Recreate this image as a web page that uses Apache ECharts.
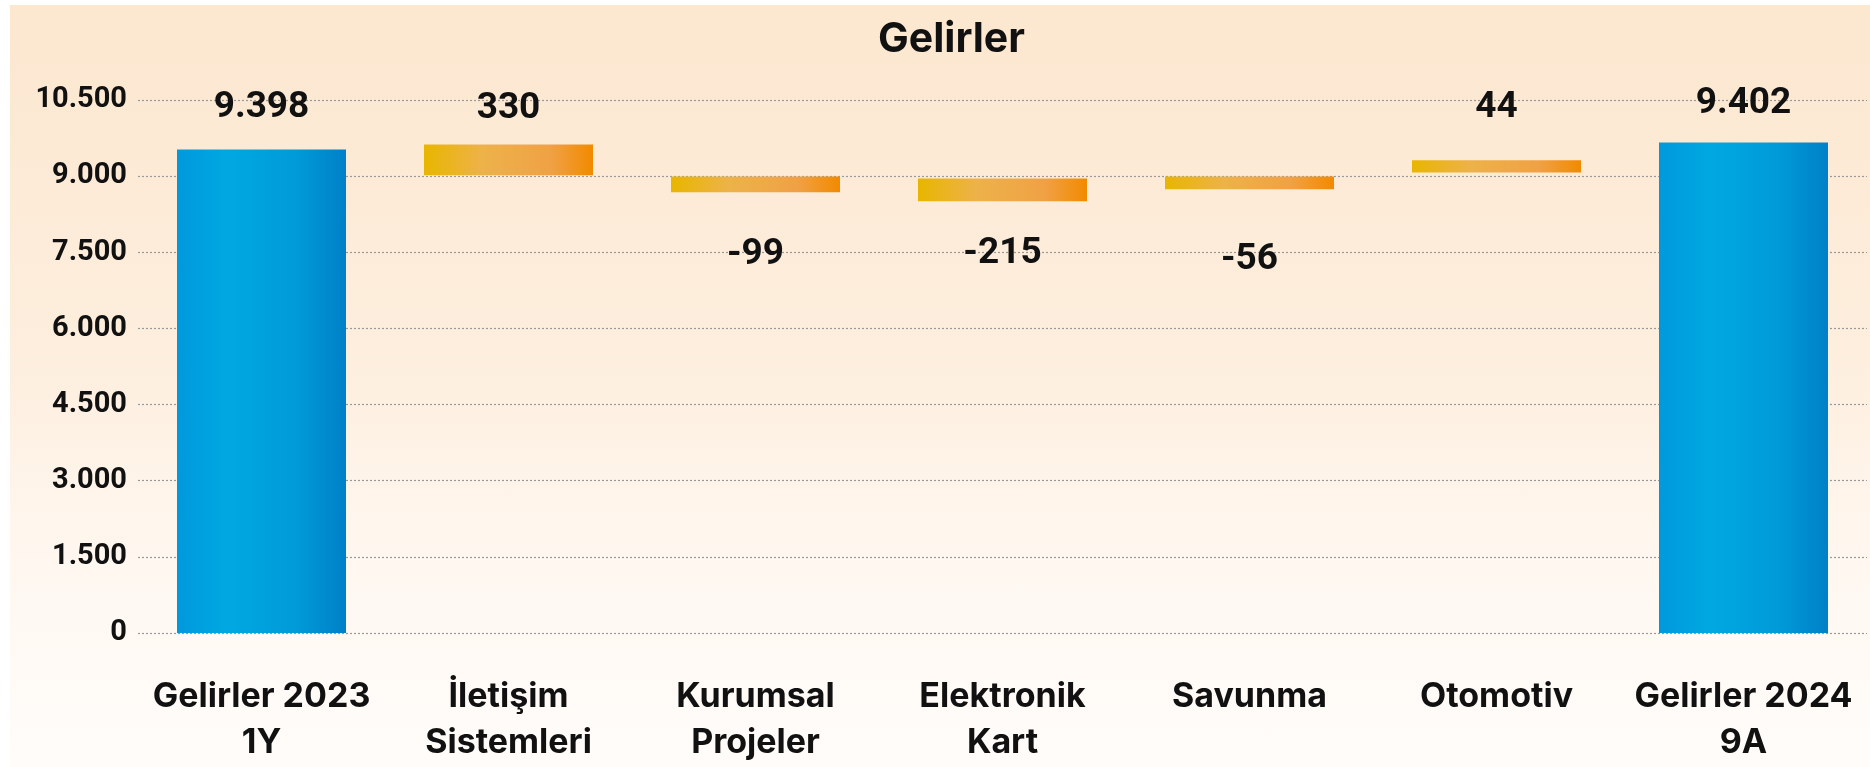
<!DOCTYPE html>
<html>
<head>
<meta charset="utf-8">
<script src="https://cdn.jsdelivr.net/npm/echarts@6/dist/echarts.min.js"></script>
<style>
  html, body { margin: 0; padding: 0; background: #ffffff; }
  #bg { position: absolute; left: 10px; top: 5px; width: 1860px; height: 762px;
        background: linear-gradient(to bottom, #FCE7CF 0%, #FDEEDD 45%, #FFF8F1 75%, #FFFCFA 100%); }
  #chart { position: absolute; left: 0; top: 0; width: 1870px; height: 767px; }
</style>
</head>
<body>
<div id="bg"></div>
<div id="chart"></div>
<script>
// ---- data ----
const titleText = 'Gelirler';
const categories = ['Gelirler 2023\n1Y', 'İletişim\nSistemleri', 'Kurumsal\nProjeler', 'Elektronik\nKart', 'Savunma', 'Otomotiv', 'Gelirler 2024\n9A'];
const shownValues = [9398, 330, -99, -215, -56, 44, 9402];      // printed labels
const barBottom = [0, 9020, 8684, 8506, 8743, 9074, 0];          // bar extents as drawn
const barTop    = [9526, 9625, 8993, 8954, 8993, 9311, 9664];
const isTotal   = [true, false, false, false, false, false, true];
const yTicks = { min: 0, max: 10500, interval: 1500 };

// ---- styling ----
const labelGap = [23, 17, 44, 34, 52, 34, 20];

function fmtTR(v) {
  const neg = v < 0;
  const s = String(Math.abs(Math.round(v))).replace(/\B(?=(\d{3})+(?!\d))/g, '.');
  return (neg ? '-' : '') + s;
}

const blueGrad = new echarts.graphic.LinearGradient(0, 0, 1, 0, [
  { offset: 0, color: '#0099DD' },
  { offset: 0.3, color: '#00A8E1' },
  { offset: 0.7, color: '#009BD8' },
  { offset: 1, color: '#0080C8' }
]);
const orangeGrad = new echarts.graphic.LinearGradient(0, 0, 1, 0, [
  { offset: 0, color: '#E8B600' },
  { offset: 0.35, color: '#EDB24A' },
  { offset: 0.75, color: '#F0A145' },
  { offset: 1, color: '#F28A00' }
]);

const deltaData = barTop.map((t, i) => ({
  value: t - barBottom[i],
  itemStyle: { color: isTotal[i] ? blueGrad : orangeGrad },
  label: {
    position: shownValues[i] < 0 ? 'bottom' : 'top',
    distance: labelGap[i]
  }
}));

const chart = echarts.init(document.getElementById('chart'), null, { renderer: 'canvas' });
chart.setOption({
  backgroundColor: 'transparent',
  animation: false,
  title: {
    text: titleText,
    left: 873,
    top: 14,
    textStyle: { fontFamily: 'Inter', fontWeight: 'bold', fontSize: 41, color: '#111111' }
  },
  grid: { left: 138, right: 3, top: 100, bottom: 134, containLabel: false },
  xAxis: {
    type: 'category',
    data: categories,
    axisLine: { show: false },
    axisTick: { show: false },
    axisLabel: {
      margin: 41,
      interval: 0,
      fontFamily: 'Inter',
      fontWeight: 'bold',
      fontSize: 34,
      lineHeight: 46,
      color: '#111111'
    }
  },
  yAxis: {
    type: 'value',
    min: yTicks.min,
    max: yTicks.max,
    interval: yTicks.interval,
    axisLine: { show: false },
    axisTick: { show: false },
    axisLabel: {
      margin: 11,
      fontFamily: 'Roboto',
      fontWeight: 'bold',
      fontSize: 29,
      color: '#111111',
      formatter: v => fmtTR(v)
    },
    splitLine: { lineStyle: { color: '#999999', type: [2, 2], width: 1.2 } }
  },
  series: [
    {
      name: 'base',
      type: 'bar',
      stack: 'w',
      silent: true,
      barWidth: 169,
      itemStyle: { color: 'transparent' },
      data: barBottom
    },
    {
      name: 'delta',
      type: 'bar',
      stack: 'w',
      barWidth: 169,
      data: deltaData,
      label: {
        show: true,
        fontFamily: 'Roboto',
        fontWeight: 'bold',
        fontSize: 37,
        color: '#111111',
        formatter: p => fmtTR(shownValues[p.dataIndex])
      }
    }
  ]
});
</script>
</body>
</html>
